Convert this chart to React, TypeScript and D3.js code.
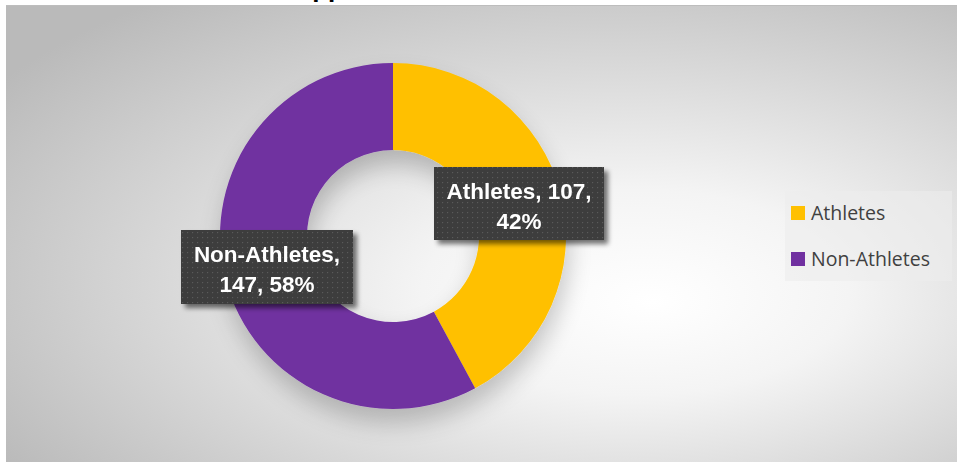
import React from "react";
import * as d3 from "d3";

const categories = ["Athletes", "Non-Athletes"];
const values = [107, 147];
const colors = ["#FFC000", "#7030A0"];
const labelLines = [
  ["Athletes, 107,", "42%"],
  ["Non-Athletes,", "147, 58%"],
];
const titleText = "Support";

const W = 957;
const H = 464;

export default function App() {
  const cx = 393;
  const cy = 236;
  const outerR = 173;
  const innerR = 86;
  const pie = d3.pie<number>().sort(null).value((d) => d);
  const arcs = pie(values);
  const arcGen = d3.arc<d3.PieArcDatum<number>>().innerRadius(innerR).outerRadius(outerR);
  const total = d3.sum(values);

  const boxes = [
    { x: 434, y: 167, w: 170, h: 73 },
    { x: 181, y: 230, w: 172, h: 74 },
  ];

  return (
    <svg
      width={W}
      height={H}
      style={{ position: "absolute", left: 0, top: 0, display: "block" }}
    >
      <defs>
        <radialGradient id="bg" cx="62%" cy="58%" r="75%" fx="68%" fy="65%">
          <stop offset="0" stopColor="#ffffff" />
          <stop offset="0.3" stopColor="#f4f4f4" />
          <stop offset="1" stopColor="#bababa" />
        </radialGradient>
        <pattern id="dots" width="5" height="5" patternUnits="userSpaceOnUse">
          <rect width="5" height="5" fill="#3d3d3d" />
          <rect x="2" y="2" width="1.2" height="1.2" fill="#5a5a5a" />
        </pattern>
        <filter id="donutShadow" x="-30%" y="-30%" width="160%" height="170%">
          <feGaussianBlur in="SourceAlpha" stdDeviation="12" />
          <feOffset dx="2" dy="14" result="b" />
          <feComponentTransfer>
            <feFuncA type="linear" slope="0.22" />
          </feComponentTransfer>
          <feMerge>
            <feMergeNode />
            <feMergeNode in="SourceGraphic" />
          </feMerge>
        </filter>
        <filter id="boxShadow" x="-20%" y="-20%" width="150%" height="160%">
          <feGaussianBlur in="SourceAlpha" stdDeviation="2.5" />
          <feOffset dx="4" dy="4" result="b" />
          <feComponentTransfer>
            <feFuncA type="linear" slope="0.55" />
          </feComponentTransfer>
          <feMerge>
            <feMergeNode />
            <feMergeNode in="SourceGraphic" />
          </feMerge>
        </filter>
      </defs>
      <rect x={0} y={0} width={W} height={H} fill="#ffffff" />
      <rect x={6} y={5} width={W - 6} height={457} fill="url(#bg)" />
      <line x1={6} x2={W} y1={5.5} y2={5.5} stroke="#bdbdbd" strokeWidth={1} />
      <text
        x={279}
        y={-3}
        textAnchor="start"
        fontFamily="'Liberation Sans', Arial, sans-serif"
        fontWeight="bold"
        fontSize={26}
        fill="#000"
      >
        {titleText}
      </text>

      <g transform={`translate(${cx},${cy})`} filter="url(#donutShadow)">
        {arcs.map((a, i) => (
          <path key={categories[i]} d={arcGen(a) || ""} fill={colors[i]} />
        ))}
      </g>

      {arcs.map((a, i) => {
        const b = boxes[i];
        return (
          <g key={"lbl" + i} filter="url(#boxShadow)">
            <rect x={b.x} y={b.y} width={b.w} height={b.h} fill="url(#dots)" />
            {labelLines[i].map((t, j) => (
              <text
                key={j}
                x={b.x + b.w / 2}
                y={b.y + 32 + j * 30}
                textAnchor="middle"
                fontFamily="'Liberation Sans', Arial, sans-serif"
                fontWeight="bold"
                fontSize={22.5}
                fill="#ffffff"
              >
                {t}
              </text>
            ))}
            <title>{`${categories[i]} ${Math.round((values[i] / total) * 100)}%`}</title>
          </g>
        );
      })}

      <rect x={785} y={191} width={167} height={90} fill="#ececec" opacity={0.6} />
      {categories.map((c, i) => (
        <g key={"leg" + c} transform={`translate(791,${206 + i * 46})`}>
          <rect x={0} y={0} width={14} height={14} fill={colors[i]} />
          <text
            x={20}
            y={14}
            fontFamily="'Open Sans', 'Liberation Sans', sans-serif"
            fontSize={19.5}
            fill="#404040"
          >
            {c}
          </text>
        </g>
      ))}
    </svg>
  );
}
